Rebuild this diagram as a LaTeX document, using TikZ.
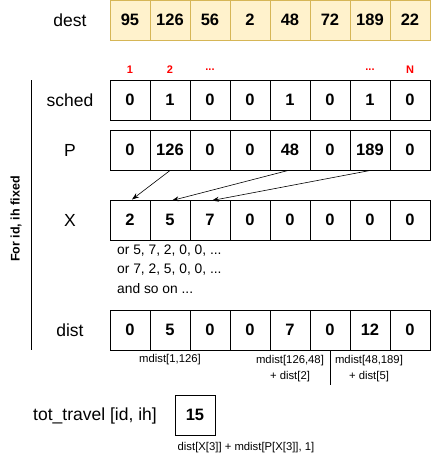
\documentclass[tikz,border=0pt]{standalone}
\usepackage{fontspec}
\setmainfont{Liberation Sans}
\usetikzlibrary{arrows.meta}
\definecolor{dfill}{HTML}{FFF2CC}
\definecolor{dline}{HTML}{D6B656}
\definecolor{redlab}{HTML}{FF0000}
\tikzset{
 cell/.style={draw, line width=1pt, minimum width=40pt, minimum height=40pt, inner sep=0pt, font=\fontsize{16.5}{18}\selectfont\bfseries},
 dcell/.style={cell, fill=dfill, draw=dline},
 rowlab/.style={font=\fontsize{17.5}{20}\selectfont, inner sep=0pt},
 idxlab/.style={text=redlab, font=\fontsize{11}{12}\selectfont\bfseries, inner sep=0pt},
 note/.style={font=\fontsize{11.3}{16}\selectfont, inner sep=0pt, align=center},
 alt/.style={font=\fontsize{13.8}{16}\selectfont, inner sep=0pt, anchor=west},
 link/.style={-{Stealth[length=7pt,width=5pt]}, line width=0.6pt},
 sep/.style={line width=1pt},
}
\begin{document}
\begin{tikzpicture}[x=1pt,y=-1pt]
\useasboundingbox (0,0) rectangle (431,467);
% row labels
\node[rowlab] (ldest) at (70,20) {dest};
\node[rowlab] (lsched) at (70,100) {sched};
\node[rowlab] (lp) at (70,150) {P};
\node[rowlab] (lx) at (70,220) {X};
\node[rowlab] (ldist) at (70,330) {dist};
% cells
\foreach \v [count=\i] in {95,126,56,2,48,72,189,22}
  \node[dcell] (d\i) at ({90+40*\i},20) {\v};
\foreach \v [count=\i] in {0,1,0,0,1,0,1,0}
  \node[cell] (s\i) at ({90+40*\i},100) {\v};
\foreach \v [count=\i] in {0,126,0,0,48,0,189,0}
  \node[cell] (p\i) at ({90+40*\i},150) {\v};
\foreach \v [count=\i] in {2,5,7,0,0,0,0,0}
  \node[cell] (x\i) at ({90+40*\i},220) {\v};
\foreach \v [count=\i] in {0,5,0,0,7,0,12,0}
  \node[cell] (t\i) at ({90+40*\i},330) {\v};
% index labels
\node[idxlab] (i1) at (130,69.5) {1};
\node[idxlab] (i2) at (170,69.5) {2};
\node[idxlab] (i3) at (210,69.5) {...};
\node[idxlab] (i7) at (370,69.5) {...};
\node[idxlab] (i8) at (410,69.5) {N};
% arrows
\draw[link] (p2.south) -- ([xshift=2pt]x1.north);
\draw[link] ([xshift=-2pt]p5.south) -- ([xshift=2pt,yshift=-1pt]x2.north);
\draw[link] (p7.south) -- ([xshift=2pt,yshift=-1pt]x3.north);
% alternatives
\node[alt] (a1) at (117,251) {or 5, 7, 2, 0, 0, ...};
\node[alt] (a2) at (117,270) {or 7, 2, 5, 0, 0, ...};
\node[alt] (a3) at (117,289) {and so on ...};
% side bracket
\coordinate (vt) at (31,80);
\coordinate (vb) at (31,350);
\draw[sep] (vt) -- (vb);
\node[rotate=90, font=\fontsize{12.5}{14}\selectfont\bfseries, inner sep=0pt] (side) at (16,219) {For id, ih fixed};
% notes under dist
\node[note] (n1) at (170,360) {mdist[1,126]};
\node[note] (n2) at (290,368.5) {mdist[126,48]\\+ dist[2]};
\node[note] (n3) at (369,368.5) {mdist[48,189]\\+ dist[5]};
\coordinate (st) at (330,350);
\coordinate (sb) at (330,385);
\draw[line width=0.8pt] (st) -- (sb);
% total
\node[rowlab] (ltot) at (95,416) {tot\_travel [id, ih]};
\node[cell] (tot) at (195,415) {15};
\node[note] (n4) at (246,448) {dist[X[3]] + mdist[P[X[3]], 1]};
\end{tikzpicture}
\end{document}
